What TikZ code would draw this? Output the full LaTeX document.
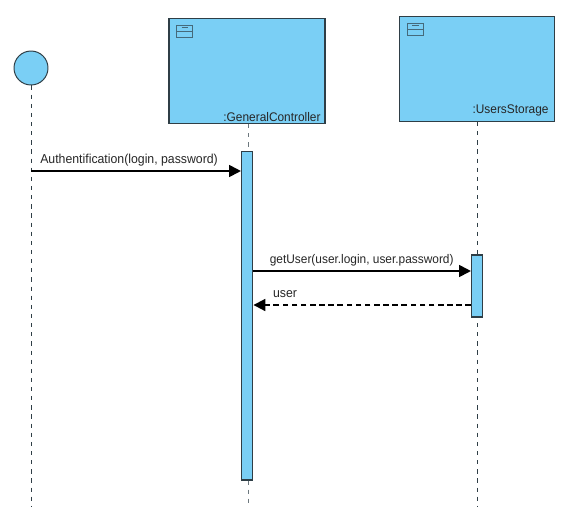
\documentclass[tikz,border=0pt]{standalone}
\usepackage{fontspec}
\setmainfont[FakeStretch=0.95]{Liberation Sans}
\usepackage{xcolor}
\usetikzlibrary{arrows.meta, positioning, calc}
\definecolor{objblue}{HTML}{7ACFF5}
\definecolor{objline}{HTML}{2F3E46}
\tikzset{
  actor/.style={circle, minimum size=0.85cm, inner sep=0pt, draw=objline, fill=objblue, line width=0.7pt},
  object/.style={rectangle, minimum width=3.9cm, minimum height=2.62cm, inner sep=0pt, draw=objline, fill=objblue, line width=0.9pt},
  objlabel/.style={inner sep=0pt, font=\fontsize{8.9}{11}\selectfont, text=black!85},
  bar/.style={rectangle, minimum width=0.28cm, inner sep=0pt, draw=objline, fill=objblue, line width=0.9pt},
  icon/.style={rectangle, minimum width=0.4cm, minimum height=0.3cm, inner sep=0pt, draw=objline!70!objblue, line width=0.5pt},
  lifeline/.style={dash pattern=on 3pt off 3.5pt, line width=0.7pt, draw=objline},
  arrow/.style={line width=1.35pt, -{Triangle[length=8.5pt,width=8.5pt]}},
  dashedarrow/.style={arrow, dash pattern=on 4pt off 2.5pt},
  msglabel/.style={inner sep=0pt, font=\fontsize{9.2}{11}\selectfont, text=black!85}
}
\begin{document}
\begin{tikzpicture}
\useasboundingbox (0,0) rectangle (14.2,-12.75);
% objects along the top
\node[actor] (user) at (0.775,-1.7) {};
\node[object] (gc) at (6.175,-1.775) {};
\node[object, minimum width=3.86cm] (us) at (11.925,-1.725) {};
\node[objlabel, anchor=south east] (gclabel) at ($(gc.south east)+(-0.12,0.05)$) {:GeneralController};
\node[objlabel, anchor=south east] (uslabel) at ($(us.south east)+(-0.15,0.13)$) {:UsersStorage};

% small icons in the corners
\node[icon, anchor=north west] (gcicon) at ($(gc.north west)+(0.2,-0.17)$) {};
\node[icon, anchor=north west] (usicon) at ($(us.north west)+(0.2,-0.17)$) {};
\foreach \n in {gcicon,usicon} {
  \draw[objline!70!objblue, line width=0.5pt] (\n.west) -- (\n.east);
  \draw[objline!70!objblue, line width=0.8pt] ($(\n.north)+(-0.08,-0.07)$) -- ($(\n.north)+(0.08,-0.07)$);
}

% ends of the lifelines
\coordinate (userend) at (0.775,-12.68);
\coordinate (gcend) at (6.2,-12.68);
\coordinate (usend) at (11.925,-12.68);
\draw[lifeline] (user.south) -- (userend);
\draw[lifeline, draw=objline!70] (gcend |- gc.south) -- (gcend);
\draw[lifeline] (us.south) -- (usend);

% activation bars
\node[bar, minimum height=8.22cm] (gcbar) at (6.18,-7.89) {};
\node[bar, minimum height=1.55cm] (usbar) at (11.93,-7.15) {};

% messages
\coordinate (authstart) at (0.775,-4.275);
\coordinate (getstart) at (gcbar.east |- 0,-6.775);
\coordinate (retstart) at (usbar.west |- 0,-7.625);
\draw[arrow] (authstart) -- (authstart -| gcbar.west);
\draw[arrow] (getstart) -- (getstart -| usbar.west);
\draw[dashedarrow] (retstart) -- (retstart -| gcbar.east);

\node[msglabel, anchor=base west] (auth) at (1,-4.08) {Authentification(login, password)};
\node[msglabel, anchor=base west, font=\fontsize{8.9}{11}\selectfont] (get) at (6.74,-6.58) {getUser(user.login, user.password)};
\node[msglabel, anchor=base west] (ret) at (6.82,-7.43) {user};
\end{tikzpicture}
\end{document}
